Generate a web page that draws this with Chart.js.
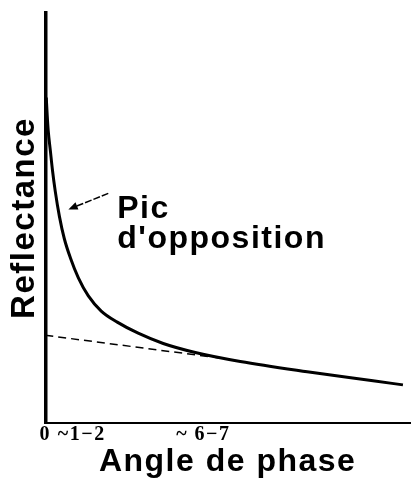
<!DOCTYPE html>
<html>
<head>
<meta charset="utf-8">
<script src="https://cdn.jsdelivr.net/npm/chart.js@4/dist/chart.umd.min.js"></script>
<style>
    html, body { margin: 0; padding: 0; background: #fff; }
    #wrap { width: 412px; height: 484px; }
</style>
</head>
<body>
<div id="wrap"><canvas id="phaseCurve" width="412" height="484"></canvas></div>
<script>
// Courbe de réflectance en fonction de l'angle de phase (unités arbitraires)
const angles      = [0.04, 0.08, 0.12, 0.21, 0.29, 0.41, 0.58, 0.78, 1.03, 1.36, 1.77, 2.30, 2.96, 3.82, 4.85, 6.17, 8.02, 10.77, 13.48, 14.71];
const reflectance = [79.4, 74.9, 71.3, 66.3, 61.9, 56.5, 50.4, 45.0, 40.3, 35.4, 31.0, 27.3, 24.6, 21.9, 19.4, 17.2, 15.0, 12.5, 10.3, 9.3];

// Tendance linéaire sans le pic d'opposition (tirets)
const trendAngles = [0, 7.5];
const trendValues = [21.4, 15.6];

// Graduations de l'axe des angles
const tickValues = [0, 1.5, 6.5];
const tickLabels = ['0', '~1\u22122', '~ 6\u22127'];

// Annotation du pic
const noteLines = ['Pic', "d'opposition"];
const notePos = { x: 2.96, y: [49.9, 42.8] };
const arrowFrom = { x: 2.59, y: 56.0 };
const arrowTo = { x: 0.95, y: 52.1 };

const SANS = '"Liberation Sans", Arial, sans-serif';
const SERIF = '"Liberation Serif", "Times New Roman", serif';

function toPoints(xs, ys) {
    return xs.map((x, i) => ({ x: x, y: ys[i] }));
}

// Espacement des lettres des titres
const letterSpacingPlugin = {
    id: 'letterSpacing',
    beforeDraw(chart) {
        chart.ctx.letterSpacing = '1.5px';
    }
};

// Flèche et texte "Pic d'opposition"
const notePlugin = {
    id: 'opposition',
    afterDatasetsDraw(chart) {
        const { ctx, scales: { x, y } } = chart;
        const x0 = x.getPixelForValue(arrowFrom.x), y0 = y.getPixelForValue(arrowFrom.y);
        const x1 = x.getPixelForValue(arrowTo.x), y1 = y.getPixelForValue(arrowTo.y);
        const ang = Math.atan2(y1 - y0, x1 - x0);

        ctx.save();
        ctx.strokeStyle = '#000';
        ctx.fillStyle = '#000';
        ctx.lineWidth = 1.5;
        ctx.setLineDash([7, 2]);
        ctx.beginPath();
        ctx.moveTo(x0, y0);
        ctx.lineTo(x1 - 6 * Math.cos(ang), y1 - 6 * Math.sin(ang));
        ctx.stroke();
        ctx.setLineDash([]);
        ctx.beginPath();
        ctx.moveTo(x1, y1);
        ctx.lineTo(x1 - 10 * Math.cos(ang - 0.4), y1 - 10 * Math.sin(ang - 0.4));
        ctx.lineTo(x1 - 10 * Math.cos(ang + 0.4), y1 - 10 * Math.sin(ang + 0.4));
        ctx.closePath();
        ctx.fill();

        ctx.font = 'bold 32px ' + SANS;
        ctx.letterSpacing = '1.5px';
        ctx.textAlign = 'left';
        ctx.textBaseline = 'alphabetic';
        const tx = x.getPixelForValue(notePos.x);
        noteLines.forEach((line, i) => {
            ctx.fillText(line, tx, y.getPixelForValue(notePos.y[i]));
        });
        ctx.restore();
    }
};

new Chart(document.getElementById('phaseCurve'), {
    type: 'line',
    data: {
        datasets: [{
            label: 'Réflectance',
            data: toPoints(angles, reflectance),
            borderColor: '#000',
            borderWidth: 3,
            pointRadius: 0,
            cubicInterpolationMode: 'monotone',
            fill: false
        }, {
            label: 'Tendance',
            data: toPoints(trendAngles, trendValues),
            borderColor: '#000',
            borderWidth: 1.5,
            borderDash: [8, 5],
            pointRadius: 0,
            fill: false
        }]
    },
    options: {
        responsive: false,
        animation: false,
        layout: { padding: { top: 13, right: 2, bottom: 0, left: 0 } },
        plugins: {
            legend: { display: false },
            tooltip: { enabled: false }
        },
        scales: {
            x: {
                type: 'linear',
                min: 0,
                max: 15,
                afterBuildTicks: (scale) => {
                    scale.ticks = tickValues.map(v => ({ value: v }));
                },
                ticks: {
                    autoSkip: false,
                    maxRotation: 0,
                    padding: 0,
                    color: '#000',
                    font: { family: SERIF, size: 20, weight: 'bold', lineHeight: 1.15 },
                    callback: (value) => tickLabels[tickValues.indexOf(value)]
                },
                grid: { display: false, drawTicks: false },
                border: { display: true, color: '#000', width: 2 },
                title: {
                    display: true,
                    text: 'Angle de phase',
                    color: '#000',
                    font: { family: SANS, size: 32, weight: 'bold', lineHeight: 1.0 },
                    padding: { top: 0, bottom: 6 }
                }
            },
            y: {
                min: 0,
                max: 100,
                ticks: { display: false },
                grid: { display: false, drawTicks: false },
                border: { display: true, color: '#000', width: 3.5 },
                title: {
                    display: true,
                    text: 'Reflectance',
                    color: '#000',
                    font: { family: SANS, size: 33, weight: 'bold', lineHeight: 1.1 },
                    padding: { top: 7, bottom: 2 }
                }
            }
        }
    },
    plugins: [letterSpacingPlugin, notePlugin]
});
</script>
</body>
</html>
